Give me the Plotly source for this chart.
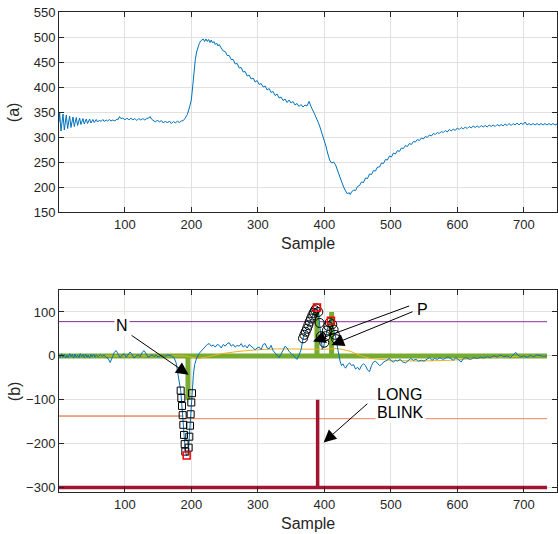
import plotly.graph_objects as go

# ---------------- data: panel (a) raw signal (sample, value) ----------------
signal_a = [
    (1, 330), (2, 348), (4, 312), (7, 346), (9, 314), (12, 344), (14, 317), (17, 342), (19, 319),
    (22, 340), (24, 321), (27, 339), (29, 323), (32, 338), (34, 325), (37, 337), (39, 326),
    (42, 336), (44, 327), (47, 336), (49, 328), (52, 335), (54, 329), (57, 335), (59, 330),
    (62, 334), (64, 331), (67, 335), (69, 331), (72, 334), (74, 332), (77, 335), (79, 332),
    (82, 334), (85, 332), (88, 336), (90, 335), (92, 341), (94, 337), (97, 338), (100, 334),
    (103, 338), (106, 334), (109, 338), (112, 334), (115, 337), (118, 333), (121, 337), (124, 334),
    (127, 337), (130, 334), (133, 337), (136, 338), (138, 341), (140, 336), (143, 333), (146, 330),
    (149, 334), (152, 330), (155, 333), (158, 328), (161, 332), (164, 328), (167, 332), (170, 327),
    (173, 331), (176, 328), (179, 332), (182, 329), (185, 332), (188, 333), (191, 338), (194, 345),
    (197, 358), (200, 374), (202, 400), (204, 430), (206, 455), (208, 470), (210, 480), (212, 487),
    (214, 492), (216, 494), (218, 496), (220, 491), (222, 496), (224, 491), (226, 495), (228, 489),
    (230, 494), (232, 488), (234, 491), (236, 485), (238, 488), (240, 482), (242, 485), (245, 478),
    (248, 472), (251, 471), (254, 463), (257, 463), (260, 455), (263, 455), (266, 446), (269, 447),
    (272, 438), (275, 439), (278, 430), (281, 431), (284, 422), (287, 424), (290, 416), (293, 418),
    (296, 410), (299, 413), (302, 405), (305, 407), (308, 400), (311, 402), (314, 394), (317, 397),
    (320, 389), (323, 391), (326, 383), (329, 386), (332, 378), (335, 380), (338, 373), (341, 376),
    (344, 369), (347, 374), (350, 368), (353, 371), (356, 364), (359, 367), (362, 361), (365, 365),
    (368, 360), (371, 364), (374, 362), (377, 371), (379, 362), (381, 358), (384, 350),
    (387, 342), (390, 332), (393, 322), (396, 310), (399, 298), (402, 284), (405, 268), (408, 254),
    (411, 248), (414, 250), (417, 244), (420, 232), (423, 220), (426, 210), (429, 200), (432, 192),
    (435, 186), (437, 189), (439, 185), (441, 190), (444, 194), (447, 193), (450, 201), (453, 203),
    (456, 210), (459, 209), (462, 218), (465, 217), (468, 226), (471, 225), (474, 233), (477, 232),
    (480, 240), (483, 240), (486, 248), (489, 247), (492, 255), (495, 254), (498, 262), (501, 260),
    (504, 268), (507, 266), (510, 273), (513, 271), (516, 278), (519, 277), (522, 283), (525, 281),
    (528, 287), (531, 285), (534, 291), (537, 290), (540, 295), (543, 293), (546, 298), (549, 296),
    (552, 301), (555, 299), (558, 304), (561, 302), (564, 307), (567, 305), (570, 309), (573, 307),
    (576, 311), (579, 309), (582, 313), (585, 310), (588, 315), (591, 312), (594, 316), (597, 313),
    (600, 318), (603, 315), (606, 319), (609, 316), (612, 320), (615, 317), (618, 321), (621, 318),
    (624, 322), (627, 319), (630, 322), (633, 319), (636, 323), (639, 320), (642, 323), (645, 320),
    (648, 324), (651, 321), (654, 324), (657, 321), (660, 325), (663, 322), (666, 325), (669, 322),
    (672, 326), (675, 323), (678, 327), (681, 323), (684, 327), (687, 324), (690, 328), (693, 324),
    (696, 328), (699, 325), (702, 330), (705, 324), (708, 327), (711, 324), (714, 327), (717, 324),
    (720, 327), (723, 324), (726, 327), (729, 324), (732, 327), (735, 324), (738, 327), (741, 324),
    (744, 327), (747, 324), (750, 326),
]

# ---------------- data: panel (b) ----------------
deriv_b = [
    (1, 3), (3, -4), (5, 5), (7, -3), (9, 4), (11, -5), (13, 2), (15, -4), (17, 5), (19, -2),
    (21, 3), (23, -5), (25, 4), (27, -3), (29, 2), (31, -4), (33, 5), (35, -2), (37, 3), (39, -4),
    (41, 4), (43, -3), (45, 2), (47, -5), (49, 3), (51, -2), (53, 4), (55, -3), (57, 2), (60, -2),
    (63, 3), (66, -1), (69, 2), (72, -4), (75, -6), (78, -15), (81, -4), (84, 8), (87, 12), (90, 2),
    (93, -4), (96, 2), (99, 5), (102, -3), (105, 3), (108, 9), (111, 3), (114, -5), (117, 0),
    (120, 2), (123, -2), (126, 8), (129, 12), (132, 4), (135, -3), (138, 0), (141, 2), (144, -1),
    (147, 1), (150, -2), (155, 1), (160, -1), (165, 2), (170, 0), (174, -4), (177, -15), (180, -40),
    (182, -62), (184, -79), (185, -96), (186, -114), (187, -135), (188, -157), (189, -180),
    (190, -201), (191, -218), (193, -227), (195, -222), (196, -209), (197, -184), (198, -159),
    (199, -133), (200, -106), (201, -85), (203, -45), (205, -20), (208, -5), (212, 6), (216, 12),
    (220, 20), (224, 26), (227, 28), (230, 22), (233, 25), (236, 20), (239, 26), (242, 24),
    (245, 18), (248, 26), (251, 22), (254, 28), (257, 30), (260, 22), (263, 26), (266, 20),
    (269, 24), (272, 22), (275, 28), (278, 20), (281, 24), (284, 18), (287, 26), (290, 22),
    (293, 20), (296, 14), (299, 18), (302, 20), (305, 14), (308, 26), (311, 28), (314, 18),
    (317, 16), (320, 24), (323, 12), (326, 6), (329, 2), (332, -4), (335, 4), (338, 14), (341, 22),
    (344, 18), (347, 10), (350, 6), (353, 2), (356, -4), (359, -8), (362, 2), (365, 14), (367, 30),
    (368, 40), (370, 48), (372, 55), (374, 62), (376, 70), (378, 78), (380, 85), (382, 92),
    (384, 98), (386, 104), (388, 108), (389, 110), (391, 100), (393, 75), (395, 45), (397, 15),
    (399, 20), (400, 30), (402, 45), (404, 58), (406, 68), (408, 76), (410, 80), (412, 72),
    (414, 60), (416, 48), (418, 38), (420, 18), (422, 0), (424, -14), (426, -22), (428, -18),
    (430, -24), (432, -28), (435, -20), (438, -16), (441, -22), (444, -20), (447, -30), (450, -26),
    (453, -32), (456, -22), (459, -18), (462, -22), (465, -32), (468, -36), (471, -22), (474, -14),
    (477, -12), (480, -18), (483, -22), (486, -20), (489, -14), (492, -12), (495, -8), (498, -6),
    (501, -12), (504, -14), (507, -10), (510, -12), (514, -8), (518, -14), (522, -16), (526, -10),
    (530, -6), (534, -10), (538, -8), (542, -12), (546, -10), (550, -12), (554, -8), (558, -4),
    (562, -10), (566, -6), (570, -8), (574, -4), (578, -8), (582, -6), (586, -2), (590, -6),
    (594, -10), (598, -4), (602, -8), (606, -14), (609, -6), (612, -4), (616, -6), (620, -8),
    (625, -4), (630, -6), (635, -3), (640, -5), (645, -2), (650, -4), (655, 0), (660, -3),
    (665, 2), (670, -2), (675, 0), (680, -4), (685, 4), (688, 8), (691, 2), (695, -2), (700, 0),
    (705, -3), (710, 1), (715, -2), (720, 2), (725, 0), (730, -1), (735, 0),
]

baseline_b = [
    (1, 0), (190, 0), (200, -3), (210, -6), (225, -2), (245, 5), (270, 10), (300, 14), (330, 16),
    (360, 15), (380, 14), (400, 15), (420, 17), (440, 10), (455, 0), (470, -6), (500, -10),
    (540, -12), (590, -10), (635, -5), (690, -1), (735, 0),
]

event_x = [1, 195, 195, 195, 389, 389, 389, 411, 411, 411, 735]
event_y = [0, 0, -100, 0, 0, 100, 0, 0, 100, 0, 0]

blink_x = [1, 390, 390, 390, 735]
blink_y = [-300, -300, -100, -300, -300]

pos_thr_x1, pos_thr_x2 = [1, 395], [395, 735]
pos_thr_y = [78, 78]
neg_thr_x1, neg_thr_x2 = [1, 188], [188, 735]
neg_thr_y1, neg_thr_y2 = [-137, -137], [-143, -143]

n_marks_x = [184, 185, 186, 187, 188, 189, 190, 191, 196, 197, 198, 199, 200, 201]
n_marks_y = [-79, -96, -114, -135, -157, -180, -201, -218, -209, -184, -159, -133, -106, -85]

p_marks_x = [368, 370, 372, 374, 376, 378, 380, 382, 384, 386, 388, 391, 393, 395,
             400, 402, 404, 406, 408, 412, 414, 416, 418]
p_marks_y = [40, 48, 55, 62, 70, 78, 85, 92, 98, 104, 108, 100, 75, 45,
             30, 45, 58, 68, 76, 72, 60, 48, 38]

peak_x = [193, 389, 410]
peak_y = [-227, 110, 80]

x_ticks = [100, 200, 300, 400, 500, 600, 700]
ya_ticks = [150, 200, 250, 300, 350, 400, 450, 500, 550]
yb_ticks = [-300, -200, -100, 0, 100]

# ---------------- figure ----------------
BLUE = '#0072BD'
FONT = 'Liberation Sans, Arial, sans-serif'
AX = '#262626'

fig = go.Figure()
ax_a = dict(xaxis='x', yaxis='y')
ax_b = dict(xaxis='x2', yaxis='y2')

fig.add_trace(go.Scatter(x=[p[0] for p in signal_a], y=[p[1] for p in signal_a], mode='lines',
                         line=dict(color=BLUE, width=1), **ax_a))

fig.add_trace(go.Scatter(x=pos_thr_x1, y=pos_thr_y, mode='lines', line=dict(color='#7E2F8E', width=1), **ax_b))
fig.add_trace(go.Scatter(x=pos_thr_x2, y=pos_thr_y, mode='lines', line=dict(color='#A45AB3', width=1.2), **ax_b))
fig.add_trace(go.Scatter(x=neg_thr_x1, y=neg_thr_y1, mode='lines', line=dict(color='#D95319', width=1), **ax_b))
fig.add_trace(go.Scatter(x=neg_thr_x2, y=neg_thr_y2, mode='lines', line=dict(color='#EB9A7C', width=1.2), **ax_b))
fig.add_trace(go.Scatter(x=blink_x, y=blink_y, mode='lines', line=dict(color='#A2142F', width=3.5), **ax_b))
fig.add_trace(go.Scatter(x=event_x, y=event_y, mode='lines', line=dict(color='#77AC30', width=5), **ax_b))
fig.add_trace(go.Scatter(x=[p[0] for p in baseline_b], y=[p[1] for p in baseline_b], mode='lines',
                         line=dict(color='#EDB120', width=1), **ax_b))
fig.add_trace(go.Scatter(x=[p[0] for p in deriv_b], y=[p[1] for p in deriv_b], mode='lines',
                         line=dict(color=BLUE, width=1), **ax_b))
fig.add_trace(go.Scatter(x=n_marks_x, y=n_marks_y, mode='markers',
                         marker=dict(symbol='square-open', size=7, color='black', line=dict(width=1)), **ax_b))
fig.add_trace(go.Scatter(x=p_marks_x, y=p_marks_y, mode='markers',
                         marker=dict(symbol='circle-open', size=9, color='black', line=dict(width=1)), **ax_b))
fig.add_trace(go.Scatter(x=peak_x, y=peak_y, mode='markers',
                         marker=dict(symbol='square-open', size=7, color='#FF0000', line=dict(width=1.5)), **ax_b))

def xax(anchor):
    return dict(range=[1, 750], tickvals=x_ticks, ticks='inside', ticklen=5, tickcolor=AX,
                showline=True, linecolor=AX, linewidth=1, mirror='ticks', showgrid=True,
                gridcolor='#E1E1E1', gridwidth=1, zeroline=False, anchor=anchor,
                tickfont=dict(family=FONT, size=13, color=AX), domain=[0, 1])

def yax(rng, ticks, domain, anchor):
    return dict(range=rng, tickvals=ticks, ticks='inside', ticklen=5, tickcolor=AX,
                showline=True, linecolor=AX, linewidth=1, mirror='ticks', showgrid=True,
                gridcolor='#E1E1E1', gridwidth=1, zeroline=False, anchor=anchor, domain=domain,
                tickfont=dict(family=FONT, size=13, color=AX))

txt = dict(family=FONT, size=16, color='black')
arrow = dict(xref='x2', yref='y2', axref='x2', ayref='y2', text='', showarrow=True,
             arrowhead=2, arrowsize=2.5, arrowwidth=1, arrowcolor='black')
annotations = [
    dict(text='(a)', x=-0.09, y=0.7917, xref='paper', yref='paper', textangle=-90, showarrow=False,
         xanchor='center', yanchor='middle', font=dict(family=FONT, size=16, color=AX)),
    dict(text='(b)', x=-0.09, y=0.2104, xref='paper', yref='paper', textangle=-90, showarrow=False,
         xanchor='center', yanchor='middle', font=dict(family=FONT, size=16, color=AX)),
    dict(text='Sample', x=0.5, y=0.5187, xref='paper', yref='paper', showarrow=False,
         xanchor='center', yanchor='middle', font=dict(family=FONT, size=16, color=AX)),
    dict(text='Sample', x=0.5, y=-0.0646, xref='paper', yref='paper', showarrow=False,
         xanchor='center', yanchor='middle', font=dict(family=FONT, size=16, color=AX)),
    dict(x=196, y=-43, ax=108, ay=49, **arrow),
    dict(x=383, y=33, ax=530, ay=115, **arrow),
    dict(x=411, y=25, ax=535, ay=102, **arrow),
    dict(x=399, y=-197, ax=467, ay=-106, **arrow),
    dict(text='N', x=95, y=70, xref='x2', yref='y2', showarrow=False, font=txt, bgcolor='white',
         xanchor='center', yanchor='middle'),
    dict(text='P', x=548, y=105, xref='x2', yref='y2', showarrow=False, font=txt,
         xanchor='center', yanchor='middle'),
    dict(text='LONG', x=477, y=-88, xref='x2', yref='y2', showarrow=False, font=txt, bgcolor='white',
         xanchor='left', yanchor='middle'),
    dict(text='BLINK', x=477, y=-130, xref='x2', yref='y2', showarrow=False, font=txt, bgcolor='white',
         xanchor='left', yanchor='middle'),
]

fig.update_layout(
    width=558, height=534,
    margin=dict(l=59, r=1, t=12, b=42),
    paper_bgcolor='white', plot_bgcolor='white',
    showlegend=False,
    xaxis=xax('y'),
    yaxis=yax([150, 550], ya_ticks, [0.5833, 1.0], 'x'),
    xaxis2=xax('y2'),
    yaxis2=yax([-310, 150], yb_ticks, [0.0, 0.4208], 'x2'),
    annotations=annotations,
    font=dict(family=FONT),
)

fig.write_html('out.html')
